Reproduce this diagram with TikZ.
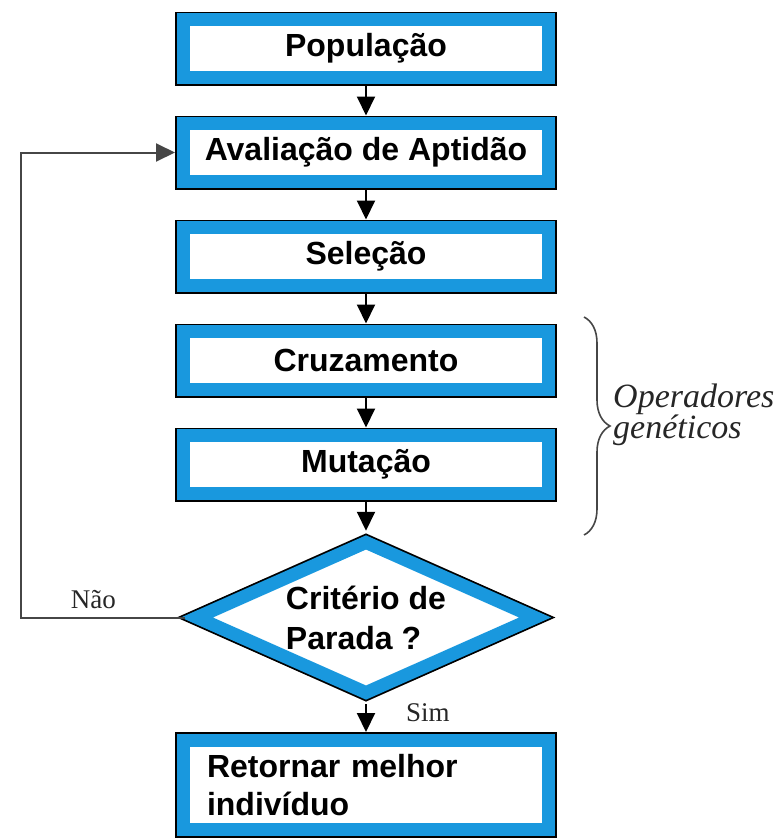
\documentclass[tikz,border=0pt]{standalone}
\usepackage{fontspec}
\setmainfont{Liberation Serif}
\setsansfont{Liberation Sans}
\usepackage{tikz}
\usetikzlibrary{arrows.meta,shapes.geometric,decorations.pathreplacing}
\definecolor{azulcaixa}{RGB}{25,152,222}
\definecolor{cinzalinha}{RGB}{70,70,70}

\begin{document}
\begin{tikzpicture}[x=1pt, y=-1pt, >={Triangle[length=19pt,width=18pt]}, node distance=104pt,
    etapa/.style={rectangle, fill=white, draw=azulcaixa, line width=13pt,
        preaction={draw=black, line width=16.5pt}, outer sep=8.25pt,
        minimum width=365.5pt, minimum height=57.5pt, inner sep=0pt,
        font=\fontsize{32}{38}\selectfont\sffamily\bfseries},
    decisao/.style={diamond, fill=white, draw=azulcaixa, line width=13pt, line join=miter,
        preaction={draw=black, line width=16.5pt}, outer sep=8.25pt,
        minimum width=345pt, minimum height=157pt, inner sep=0pt, shape aspect=2.3,
        align=left, font=\fontsize{32}{40}\selectfont\sffamily\bfseries},
    seta/.style={->, line width=2pt},
    rotulo/.style={inner sep=2pt, font=\fontsize{27}{32}\selectfont, text=black!85},
    italico/.style={inner sep=0pt, align=left, font=\fontsize{34}{31}\selectfont\itshape, text=black!85}]

    \useasboundingbox (0,0) rectangle (782,838);

    % Nodes {pop, aval, sel, cruz, mut, crit, ret}
    \node [etapa]   (pop)  at (366,48.5)   {População};
    \node [etapa]   (aval) [below of=pop]  {Avaliação de Aptidão};
    \node [etapa]   (sel)  [below of=aval] {Seleção};
    \node [etapa]   (cruz) [below of=sel]  {Cruzamento};
    \node [etapa]   (mut)  [below of=cruz] {Mutação};
    \node [decisao] (crit) [below of=mut, node distance=153pt] {Critério de\\Parada ?};
    \node [etapa, minimum height=89.5pt, text width=318pt, inner xsep=23.75pt, align=left]
                    (ret)  [below of=crit, node distance=167.5pt] {Retornar melhor\\indivíduo};

    % Paths
    \path [seta] (pop)  edge (aval);
    \path [seta] (aval) edge (sel);
    \path [seta] (sel)  edge (cruz);
    \path [seta] (cruz) edge (mut);
    \path [seta] (mut)  edge (crit);
    \path [seta] (crit) edge node [rotulo, right, pos=0.3, xshift=37pt] {Sim} (ret);

    \coordinate (volta) at (21,617.5);
    \draw [seta, cinzalinha] (crit.west) -- node [rotulo, above, pos=0.56, yshift=6pt] {Não} (volta) |- (aval.west);

    % Operadores geneticos
    \coordinate (chaveA) at (584,317);
    \coordinate (chaveB) at (584,535);
    \draw [cinzalinha, line width=1.6pt, decorate, decoration={brace, amplitude=26pt}] (chaveA) -- (chaveB);
    \node [italico, anchor=west] (ops) at (613,415) {Operadores\\genéticos};

\end{tikzpicture}
\end{document}
